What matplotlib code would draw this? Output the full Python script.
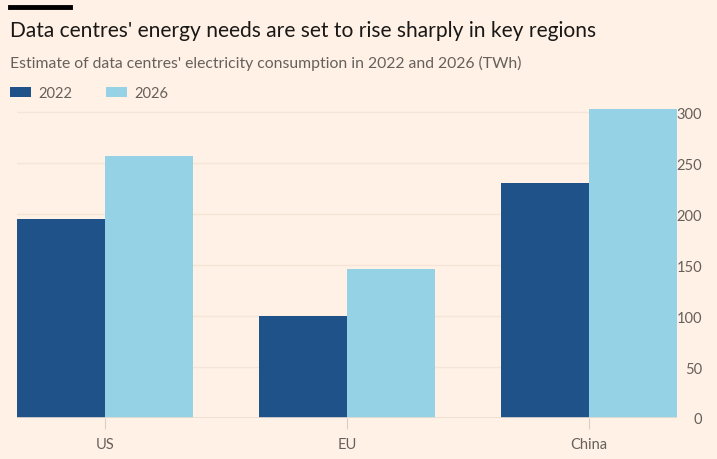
import matplotlib.pyplot as plt
import numpy as np

regions = ['US', 'EU', 'China']
years = ['2022', '2026']
twh_2022 = [195, 100, 230]
twh_2026 = [257, 146, 303]
y_ticks = [0, 50, 100, 150, 200, 250, 300]

bg = '#FFF1E5'
dark_blue = '#1F5289'
light_blue = '#96D2E6'
grey = '#66605C'

W, H = 717, 460
fig = plt.figure(figsize=(W / 100, H / 100), dpi=100, facecolor=bg)
plt.rcParams['font.family'] = ['Lato', 'DejaVu Sans']

# axes placed in pixel terms
left, right, bottom, top = 17, 677, 419, 108
ax = fig.add_axes([left / W, 1 - bottom / H, (right - left) / W, (bottom - top) / H])
ax.set_facecolor(bg)

x = np.arange(len(regions))
w = 0.3636
ax.bar(x - w / 2, twh_2022, width=w, color=dark_blue, label=years[0], zorder=3)
ax.bar(x + w / 2, twh_2026, width=w, color=light_blue, label=years[1], zorder=3)

ax.set_xlim(-w, len(regions) - 1 + w)
ax.set_ylim(0, 305)
ax.set_yticks(y_ticks)
ax.yaxis.tick_right()
ax.tick_params(axis='y', length=0, pad=18, labelsize=10.5, labelcolor=grey)
for lab in ax.get_yticklabels():
    lab.set_horizontalalignment('right')
ax.set_xticks(x)
ax.set_xticklabels(regions)
ax.tick_params(axis='x', length=8, color='#D9CFC4', width=0.8, pad=6,
               labelsize=10.5, labelcolor=grey)
ax.grid(axis='y', color='#F5E5D8', linewidth=1, zorder=0)
for s in ax.spines.values():
    s.set_visible(False)
ax.axhline(0, color='#E9DDD2', linewidth=1.2, zorder=4)

# header
fig.add_artist(plt.Line2D([10 / W, 70 / W], [1 - 8 / H, 1 - 8 / H], color='black', linewidth=3.5))
fig.text(10 / W, 1 - 31 / H, "Data centres' energy needs are set to rise sharply in key regions",
         fontsize=15.1, color='#1A1817', va='center', ha='left')
fig.text(10 / W, 1 - 63 / H, "Estimate of data centres' electricity consumption in 2022 and 2026 (TWh)",
         fontsize=11.3, color=grey, va='center', ha='left')

# legend
handles, labels = ax.get_legend_handles_labels()
leg = fig.legend(handles, labels, loc='center left', bbox_to_anchor=(-3 / W, 1 - 94 / H),
                 ncol=2, frameon=False, fontsize=10.5, handlelength=1.4, handleheight=0.7,
                 columnspacing=2.3, handletextpad=0.55)
for t in leg.get_texts():
    t.set_color(grey)

fig.savefig('out.png', dpi=100, facecolor=bg)
